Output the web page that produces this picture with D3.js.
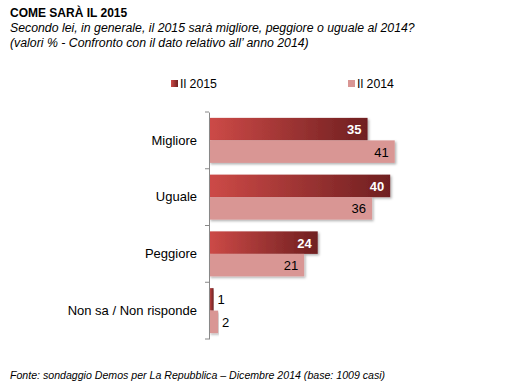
<!DOCTYPE html>
<html>
<head>
<meta charset="utf-8">
<script src="https://cdn.jsdelivr.net/npm/d3@7"></script>
<style>
  body { margin: 0; background: #fff; }
  svg { font-family: "Liberation Sans", Arial, sans-serif; }
</style>
</head>
<body>
<svg width="526" height="387"></svg>
<script>
// dati
var categories = ["Migliore", "Uguale", "Peggiore", "Non sa / Non risponde"];
var values2015 = [35, 40, 24, 1];
var values2014 = [41, 36, 21, 2];
var seriesNames = ["Il 2015", "Il 2014"];

var svg = d3.select("svg");

// gradiente per le barre del 2015
var defs = svg.append("defs");
var grad = defs.append("linearGradient").attr("id", "g2015");
grad.append("stop").attr("offset", "0%").attr("stop-color", "#cd4a47");
grad.append("stop").attr("offset", "100%").attr("stop-color", "#6f1f20");

var shadow = defs.append("filter").attr("id", "shadow")
    .attr("x", "-5%").attr("y", "-20%").attr("width", "115%").attr("height", "150%");
shadow.append("feDropShadow").attr("dx", 1.5).attr("dy", 1.5).attr("stdDeviation", 1.2)
    .attr("flood-color", "#000").attr("flood-opacity", 0.3);

// titoli
svg.append("text").attr("x", 10).attr("y", 17)
    .attr("font-size", 12).attr("font-weight", "bold").attr("fill", "#000")
    .text("COME SARÀ IL 2015");
svg.append("text").attr("x", 10).attr("y", 32)
    .attr("font-size", 12.3).attr("font-style", "italic").attr("fill", "#000")
    .text("Secondo lei, in generale, il 2015 sarà migliore, peggiore o uguale al 2014?");
svg.append("text").attr("x", 10).attr("y", 47)
    .attr("font-size", 12.3).attr("font-style", "italic").attr("fill", "#000")
    .text("(valori % - Confronto con il dato relativo all\u2019 anno 2014)");

// scale
var x = d3.scaleLinear().domain([0, 50]).range([209, 435.5]);
var y0 = d3.scaleBand().domain(categories).range([112, 339]);

// legenda
var legend = [{ name: seriesNames[0], fill: "url(#g2015)", x: 171 },
              { name: seriesNames[1], fill: "#d99694", x: 348 }];
legend.forEach(function(l) {
    svg.append("rect").attr("x", l.x).attr("y", 80).attr("width", 7).attr("height", 7)
        .attr("fill", l.fill);
    svg.append("text").attr("x", l.x + 9).attr("y", 88)
        .attr("font-size", 12.3).attr("fill", "#000").text(l.name);
});

// barre
var g = svg.append("g");
var bh = 22.5;
categories.forEach(function(c, i) {
    var top = y0(c) + (y0.bandwidth() - 2 * bh) / 2;
    g.append("rect").attr("x", x(0)).attr("y", top)
        .attr("width", x(values2015[i]) - x(0)).attr("height", bh)
        .attr("fill", "url(#g2015)").attr("filter", "url(#shadow)");
    g.append("rect").attr("x", x(0)).attr("y", top + bh)
        .attr("width", x(values2014[i]) - x(0)).attr("height", bh)
        .attr("fill", "#d99694").attr("filter", "url(#shadow)");

    var inside15 = values2015[i] > 5, inside14 = values2014[i] > 5;
    g.append("text")
        .attr("x", inside15 ? x(values2015[i]) - 6 : x(values2015[i]) + 4)
        .attr("y", top + bh / 2 + 5)
        .attr("text-anchor", inside15 ? "end" : "start")
        .attr("font-size", 13).attr("font-weight", inside15 ? "bold" : "normal")
        .attr("fill", inside15 ? "#fff" : "#000")
        .text(values2015[i]);
    g.append("text")
        .attr("x", inside14 ? x(values2014[i]) - 6 : x(values2014[i]) + 4)
        .attr("y", top + bh + bh / 2 + 5)
        .attr("text-anchor", inside14 ? "end" : "start")
        .attr("font-size", 13).attr("fill", "#000")
        .text(values2014[i]);
});

// asse delle categorie
var axis = svg.append("g").attr("transform", "translate(" + x(0) + ",0)")
    .call(d3.axisLeft(y0).tickSize(0).tickPadding(12));
axis.select(".domain").attr("stroke", "#888");
axis.selectAll("text").attr("font-size", 13).attr("fill", "#000")
    .attr("font-family", "Liberation Sans, Arial, sans-serif");
// trattini tra le categorie
var bounds = categories.map(function(c) { return y0(c); }).concat([339]);
axis.selectAll(".sep").data(bounds).enter().append("line")
    .attr("x1", -4).attr("x2", 0)
    .attr("y1", function(d) { return d; }).attr("y2", function(d) { return d; })
    .attr("stroke", "#888");

// fonte
svg.append("text").attr("x", 10).attr("y", 379)
    .attr("font-size", 10.6).attr("font-style", "italic").attr("fill", "#000")
    .text("Fonte: sondaggio Demos per La Repubblica \u2013 Dicembre 2014 (base: 1009 casi)");
</script>
</body>
</html>
